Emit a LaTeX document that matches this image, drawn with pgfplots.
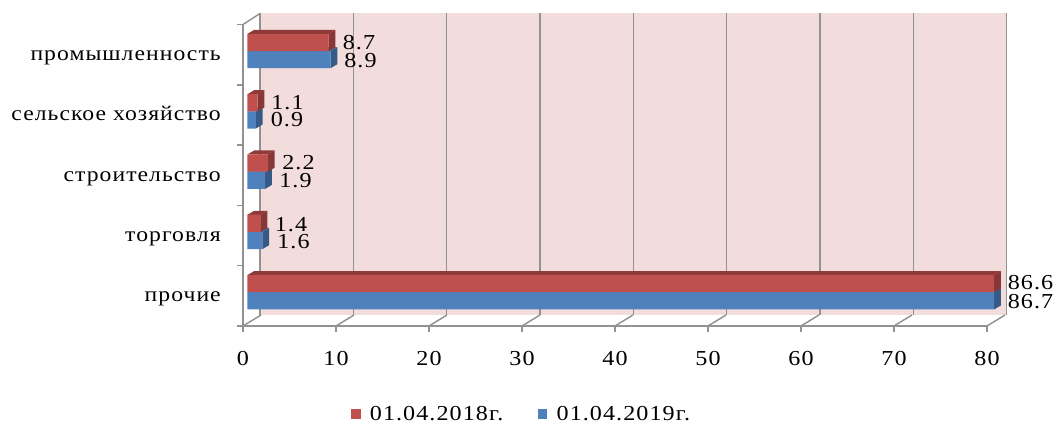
\documentclass[border=0pt]{standalone}
\usepackage{fontspec}
\setmainfont[FakeStretch=1.13,LetterSpace=5]{Liberation Serif}
\usepackage{pgfplots}
\usepackage{pgfplotstable}
\pgfplotsset{compat=1.18}

\definecolor{wall}{HTML}{F3DCDC}
\definecolor{axgray}{HTML}{929292}
\definecolor{redf}{HTML}{C0504D}
\definecolor{redtop}{HTML}{8E3A38}
\definecolor{redside}{HTML}{873735}
\definecolor{bluef}{HTML}{4F81BD}
\definecolor{bluetop}{HTML}{3C6797}
\definecolor{blueside}{HTML}{345A85}

\newcommand{\chartfont}{\fontsize{16pt}{16pt}\selectfont}
\newcommand{\catfont}{\fontsize{15.7pt}{16pt}\selectfont}

% category, 01.04.2018, 01.04.2019
\pgfplotstableread{
cat v2018 v2019
1 86.6 86.7
2 1.4 1.6
3 2.2 1.9
4 1.1 0.9
5 8.7 8.9
}\barsdata

% label positions, moved by hand like in the original
\pgfplotstableread{
lx ly lab
12.47 5.193 8.7
12.63 4.901 8.9
4.785 4.198 1.1
4.731 3.916 0.9
5.968 3.203 2.2
5.645 2.905 1.9
5.161 2.175 1.4
5.430 1.893 1.6
84.68 1.213 86.6
84.68 0.898 86.7
}\labeldata

% depth faces of one bar: value, lower edge, top colour, side colour
\newcommand{\faces}[4]{%
  \pgfmathsetmacro{\ve}{min(#1,80)}%
  \pgfmathsetmacro{\vd}{\ve+0.72}%
  \pgfmathsetmacro{\la}{#2+0.066}%
  \pgfmathsetmacro{\lb}{#2+0.285}%
  \pgfmathsetmacro{\lc}{#2+0.351}%
  \addplot[fill=#4, draw=none, forget plot] coordinates {(\ve,#2) (\vd,\la) (\vd,\lc) (\ve,\lb)};
  \addplot[fill=#3, draw=none, forget plot] coordinates {(0,\lb) (0.72,\lc) (\vd,\lc) (\ve,\lb)};
}

\begin{document}
\begin{tikzpicture}
  \path[use as bounding box] (0,0) rectangle (790.5pt,317.25pt);

  % back wall with the grid
  \begin{axis}[
    name=back,
    at={(195pt,81pt)}, anchor=south west,
    scale only axis, width=560pt, height=226.5pt,
    xmin=0, xmax=80, ymin=0.5, ymax=5.5,
    axis background/.style={fill=wall},
    axis line style={draw=none},
    xtick={0,10,...,80}, ytick=\empty,
    xticklabels={}, tick style={draw=none},
    xmajorgrids,
    grid style={axgray, line width=1.1pt},
  ]
  \end{axis}

  % front axis lines, ticks, labels, legend
  \begin{axis}[
    at={(182.25pt,72.75pt)}, anchor=south west,
    scale only axis, width=558pt, height=226.125pt,
    xmin=0, xmax=80, ymin=0.5, ymax=5.5,
    clip=false,
    axis lines*=left,
    axis line style={axgray, line width=1.1pt},
    tick align=outside,
    xtick={0,10,...,80},
    major tick length=4.5pt, minor tick length=4.5pt,
    tick style={axgray, line width=1.1pt},
    major y tick style={draw=none},
    ytick={1,2,3,4,5},
    minor ytick={0.5,1.5,2.5,3.5,4.5,5.5},
    yticklabels={прочие,торговля,строительство,сельское хозяйство,промышленность},
    /pgf/number format/assume math mode=true,
    xticklabel style={font=\chartfont, yshift=-11pt},
    yticklabel style={font=\catfont, anchor=base east, inner sep=0pt, xshift=-12pt, yshift=-4.5pt},
    legend style={at={(0.375,-0.292)}, anchor=center, draw=none, fill=none,
      font=\chartfont, inner sep=0pt, nodes={inner ysep=0pt}, legend columns=2,
      /tikz/every odd column/.style={column sep=5pt},
      /tikz/every even column/.style={column sep=24pt}},
    legend image code/.code={\fill[#1] (0pt,-3.5pt) rectangle (7pt,3.5pt);},
  ]
    \addlegendimage{fill=redf, draw=none}
    \addlegendentry{01.04.2018г.}
    \addlegendimage{fill=bluef, draw=none}
    \addlegendentry{01.04.2019г.}
    \pgfplotsinvokeforeach{0,10,...,80}{
      \draw[axgray, line width=1.1pt] (axis cs:#1,0.5) -- ++(13.5pt,8.25pt);
    }
    \draw[axgray, line width=1.1pt] (axis cs:0,5.5) -- ++(12.75pt,8.25pt);
  \end{axis}

  % bars, a little inside the floor
  \begin{axis}[
    at={(185.6pt,75.45pt)}, anchor=south west,
    scale only axis, width=560pt, height=226.125pt,
    xmin=0, xmax=80, ymin=0.5, ymax=5.5,
    clip=false,
    hide axis,
  ]
    \faces{86.7}{0.715}{bluetop}{blueside}
    \faces{1.6}{1.715}{bluetop}{blueside}
    \faces{1.9}{2.715}{bluetop}{blueside}
    \faces{0.9}{3.715}{bluetop}{blueside}
    \faces{8.9}{4.715}{bluetop}{blueside}
    \addplot[xbar, bar width=12.9pt, bar shift=-6.45pt, fill=bluef, draw=none,
      restrict x to domain*=0:80, forget plot]
      table[x=v2019, y=cat] {\barsdata};
    \faces{86.6}{1}{redtop}{redside}
    \faces{1.4}{2}{redtop}{redside}
    \faces{2.2}{3}{redtop}{redside}
    \faces{1.1}{4}{redtop}{redside}
    \faces{8.7}{5}{redtop}{redside}
    \addplot[xbar, bar width=12.9pt, bar shift=6.45pt, fill=redf, draw=none,
      restrict x to domain*=0:80, forget plot]
      table[x=v2018, y=cat] {\barsdata};
  \end{axis}

  % value labels in the coordinates of the front axis
  \begin{axis}[
    at={(182.25pt,72.75pt)}, anchor=south west,
    scale only axis, width=558pt, height=226.125pt,
    xmin=0, xmax=80, ymin=0.5, ymax=5.5,
    clip=false,
    hide axis,
  ]
    \addplot[draw=none, mark=none, point meta=explicit symbolic,
      nodes near coords,
      nodes near coords style={font=\chartfont, anchor=center, inner sep=0pt}]
      table[x=lx, y=ly, meta=lab] {\labeldata};
  \end{axis}
\end{tikzpicture}
\end{document}
